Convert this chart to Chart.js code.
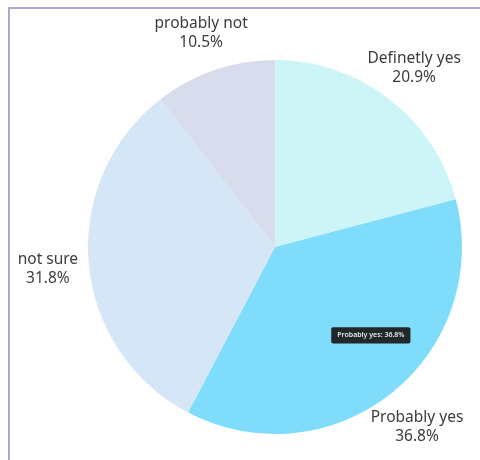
<!DOCTYPE html>
<html lang="en">
<head>
    <meta charset="UTF-8">
    <title>Survey pie</title>
    <script src="https://cdn.jsdelivr.net/npm/chart.js"></script>
    <style>
        body, html {
            margin: 0;
            padding: 0;
            background: #ffffff;
            overflow: hidden;
        }
        .frame {
            position: absolute;
            left: 8px;
            top: 7px;
            width: 700px;
            height: 700px;
            border-left: 2px solid #b0a6d4;
            border-top: 2px solid #b0a6d4;
        }
        #pieChart {
            position: absolute;
            left: 0;
            top: 0;
        }
    </style>
</head>
<body>
    <div class="frame"></div>
    <canvas id="pieChart" width="480" height="460"></canvas>

    <script>
    const labels = ['Definetly yes', 'Probably yes', 'not sure', 'probably not'];
    const percents = [20.9, 36.8, 31.8, 10.5];
    const colors = ['#cdf5f7', '#7fdcfb', '#d5e6f7', '#d9dcec'];

    // draws "name / value%" outside each slice, at the slice's middle angle
    const outsideLabels = {
        id: 'outsideLabels',
        afterDatasetsDraw(chart) {
            const ctx = chart.ctx;
            const meta = chart.getDatasetMeta(0);
            ctx.save();
            ctx.font = '15.5px "Noto Sans", sans-serif';
            ctx.fillStyle = '#3c3c3c';
            ctx.textAlign = 'center';
            ctx.textBaseline = 'middle';
            meta.data.forEach((arc, i) => {
                const mid = (arc.startAngle + arc.endAngle) / 2;
                const dist = arc.outerRadius + 41;
                const x = arc.x + Math.cos(mid) * dist;
                const y = arc.y + Math.sin(mid) * dist + 2;
                ctx.fillText(labels[i], x, y - 9.5);
                ctx.fillText(percents[i] + '%', x, y + 9.5);
            });
            ctx.restore();
        }
    };

    const chart = new Chart(document.getElementById('pieChart'), {
        type: 'pie',
        data: {
            labels: labels,
            datasets: [{
                data: percents,
                backgroundColor: colors,
                borderWidth: 0
            }]
        },
        options: {
            responsive: false,
            animation: false,
            events: [],
            layout: {
                padding: { left: 88, top: 60, right: 18, bottom: 26 }
            },
            plugins: {
                legend: { display: false },
                tooltip: {
                    enabled: true,
                    xAlign: 'left',
                    yAlign: 'top',
                    caretSize: 0,
                    caretPadding: 7,
                    cornerRadius: 2,
                    displayColors: false,
                    backgroundColor: 'rgba(24,24,24,0.92)',
                    bodyColor: '#e8e8e8',
                    padding: { x: 6, y: 4 },
                    bodyFont: { family: '"Noto Sans", sans-serif', size: 7, weight: '600' },
                    callbacks: {
                        title: () => '',
                        label: (item) => item.label + ': ' + item.raw + '%'
                    }
                }
            }
        },
        plugins: [outsideLabels]
    });

    chart.tooltip.setActiveElements([{ datasetIndex: 0, index: 1 }], { x: 0, y: 0 });
    chart.update();
    </script>
</body>
</html>
